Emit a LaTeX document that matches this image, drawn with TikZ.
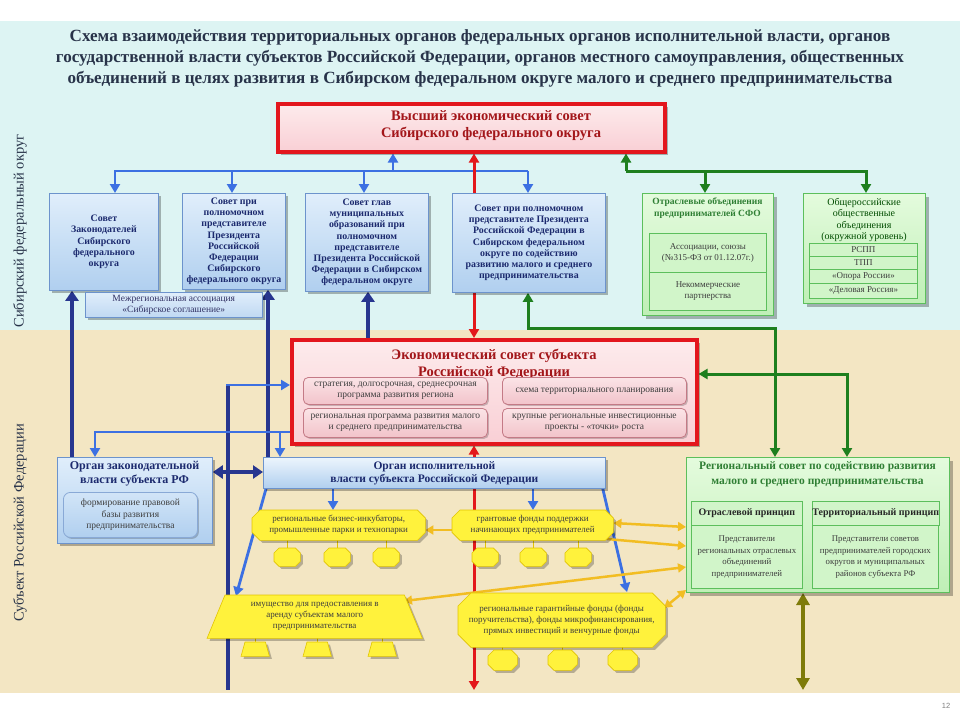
\documentclass[tikz,border=0pt]{standalone}
\usepackage{fontspec}
\setmainfont{Liberation Serif}
\newfontfamily\sansf{Liberation Sans}
\usetikzlibrary{arrows.meta,shadows,calc}
\definecolor{cyanbg}{HTML}{DDF4F3}
\definecolor{beigebg}{HTML}{F3E6C3}
\definecolor{titleC}{HTML}{283349}
\definecolor{navyT}{HTML}{1C2A6E}
\definecolor{redT}{HTML}{A3161A}
\definecolor{greenT}{HTML}{2F7F34}
\definecolor{grayT}{HTML}{3D3D3D}
\definecolor{bb1}{HTML}{E0EEFB}
\definecolor{bb2}{HTML}{B0CFEF}
\definecolor{bbd}{HTML}{6C93CC}
\definecolor{rb1}{HTML}{FDEBEC}
\definecolor{rb2}{HTML}{F9CFD5}
\definecolor{rbd}{HTML}{E3161D}
\definecolor{rr1}{HTML}{FBE4E7}
\definecolor{rr2}{HTML}{F2C3CA}
\definecolor{rrd}{HTML}{C47A86}
\definecolor{gb1}{HTML}{E4FBDD}
\definecolor{gb2}{HTML}{BFEFB6}
\definecolor{gbd}{HTML}{5CBF5C}
\definecolor{yfill}{HTML}{FFF23C}
\definecolor{yedge}{HTML}{E2C400}
\definecolor{lblue}{HTML}{3C70E2}
\definecolor{navyL}{HTML}{27368F}
\definecolor{redL}{HTML}{E3181B}
\definecolor{greenL}{HTML}{1E7F1E}
\definecolor{yelL}{HTML}{F2BD22}
\definecolor{oliveL}{HTML}{7E7B0A}
\pgfdeclarelayer{bg}\pgfdeclarelayer{lines}\pgfdeclarelayer{shp}
\pgfsetlayers{bg,lines,shp,main}
\newcommand\yoct[3]{\path[#3] ([xshift=#2]#1.north west) -- ([xshift=-#2]#1.north east) -- ([yshift=-#2]#1.north east) -- ([yshift=#2]#1.south east) -- ([xshift=-#2]#1.south east) -- ([xshift=#2]#1.south west) -- ([yshift=#2]#1.south west) -- ([yshift=-#2]#1.north west) -- cycle;}
\newcommand\ytrap[3]{\path[#3] ([xshift=#2]#1.north west) -- ([xshift=-#2]#1.north east) -- (#1.south east) -- (#1.south west) -- cycle;}
\begin{document}
\begin{tikzpicture}[x=1pt,y=-1pt,
 shad/.style={drop shadow={shadow xshift=3pt,shadow yshift=-3pt,fill=black,opacity=.28}},
 boxnw/.style={anchor=north west, inner sep=0pt, align=center},
 bbox/.style={boxnw, draw=bbd, line width=.8pt, top color=bb1, bottom color=bb2, shad, text=navyT, font=\bfseries\fontsize{9.9}{11.2}\selectfont},
 mzbox/.style={boxnw, draw=bbd, line width=.6pt, top color=bb1, bottom color=bb2!80, shad, text=grayT!80!blue, font=\fontsize{9.5}{11.5}\selectfont},
 rbox/.style={boxnw, draw=rbd, line width=3.5pt, top color=rb1, bottom color=rb2, shad},
 rtitle/.style={align=center, text=redT, inner sep=0pt, font=\bfseries\fontsize{14.5}{17}\selectfont},
 rrect/.style={boxnw, draw=rrd, line width=.8pt, rounded corners=5pt, top color=rr1, bottom color=rr2, drop shadow={shadow xshift=1.5pt,shadow yshift=-1.5pt,fill=black,opacity=.2}, text=grayT, font=\fontsize{9.5}{11.5}\selectfont},
 gbox/.style={boxnw, draw=gbd, line width=1pt, top color=gb1, bottom color=gb2, shad},
 gtitle/.style={align=center, inner sep=0pt, text=greenT, font=\bfseries\fontsize{9.5}{11.3}\selectfont},
 gin/.style={boxnw, draw=gbd, line width=.8pt, fill=gb1!50!gb2, text=grayT, font=\fontsize{9}{11}\selectfont},
 ghead/.style={boxnw, draw=gbd, line width=.8pt, fill=gb1!50!gb2, text=black!85, font=\bfseries\fontsize{10}{12}\selectfont},
 gbody/.style={boxnw, draw=gbd, line width=.8pt, fill=gb1!50!gb2, text=grayT, font=\fontsize{8.8}{11.5}\selectfont},
 ysh/.style={fill=yfill, draw=yedge, line width=.6pt, drop shadow={shadow xshift=2.5pt,shadow yshift=-2.5pt,fill=black,opacity=.25}},
 ytext/.style={anchor=north west, align=center, text=grayT, font=\fontsize{9}{11}\selectfont, inner sep=0pt},
 yfr/.style={anchor=north west, inner sep=0pt},
 yst/.style={draw=yedge, line width=1pt},
 lbl/.style={draw=lblue, line width=2.8pt, >={Triangle[length=9pt,width=10pt]}},
 nvl/.style={draw=navyL, line width=4pt, >={Triangle[length=10pt,width=13pt]}},
 rdl/.style={draw=redL, line width=3pt, >={Triangle[length=9pt,width=10pt]}},
 grl/.style={draw=greenL, line width=3pt, >={Triangle[length=9pt,width=10pt]}},
 yel/.style={draw=yelL, line width=2.5pt, >={Triangle[length=8pt,width=9pt]}},
 olv/.style={draw=oliveL, line width=4pt, >={Triangle[length=12pt,width=13pt]}},
 vlab/.style={rotate=90, text=titleC, font=\fontsize{14.5}{17}\selectfont}
]
\useasboundingbox (0,0) rectangle (960,720);
\begin{pgfonlayer}{bg}
\fill[white] (0,0) rectangle (960,720);
\fill[cyanbg] (0,21) rectangle (960,330);
\fill[beigebg] (0,330) rectangle (960,693);
\end{pgfonlayer}

% title and side labels
\node[align=center, text=titleC, font=\bfseries\fontsize{17.1}{21}\selectfont] (title) at (480,58) {Схема взаимодействия территориальных органов федеральных органов исполнительной власти, органов\\государственной власти субъектов Российской Федерации, органов местного самоуправления, общественных\\объединений в целях развития в Сибирском федеральном округе малого и среднего предпринимательства};
\node[vlab] (lab1) at (20,231) {Сибирский федеральный округ};
\node[vlab] (lab2) at (20,523) {Субъект Российской Федерации};
\node[font=\sansf\fontsize{7.5}{8}\selectfont, text=gray] (pg) at (946,706) {12};

% top council
\node[rbox, minimum width=387, minimum height=48] (top) at (276,102) {};
\node[rtitle] (topt) at (491,126) {Высший экономический совет\\Сибирского федерального округа};

% blue row
\node[bbox, minimum width=109, minimum height=97] (b1) at (49,193) {Совет\\Законодателей\\Сибирского\\федерального\\округа};
\node[bbox, minimum width=103, minimum height=96] (b2) at (182,193) {Совет при\\полномочном\\представителе\\Президента\\Российской\\Федерации\\Сибирского\\федерального округа};
\node[bbox, minimum width=123, minimum height=98] (b3) at (305,193) {Совет глав\\муниципальных\\образований при\\полномочном\\представителе\\Президента Российской\\Федерации в Сибирском\\федеральном округе};
\node[bbox, minimum width=153, minimum height=99] (b4) at (452,193) {Совет при полномочном\\представителе Президента\\Российской Федерации в\\Сибирском федеральном\\округе по содействию\\развитию малого и среднего\\предпринимательства};
\node[mzbox, minimum width=177, minimum height=25] (mz) at (85,292) {Межрегиональная ассоциация\\«Сибирское соглашение»};

% green boxes top
\node[gbox, minimum width=131, minimum height=122] (g1) at (642,193) {};
\node[gtitle] (g1t) at (707.5,208) {Отраслевые объединения\\предпринимателей СФО};
\node[gin, minimum width=117, minimum height=39] (g1a) at (649,233) {Ассоциации, союзы\\(№315-ФЗ от 01.12.07г.)};
\node[gin, minimum width=117, minimum height=38] (g1b) at (649,272) {Некоммерческие\\партнерства};
\node[gbox, minimum width=122, minimum height=110] (g2) at (803,193) {};
\node[gtitle, text=black!70!green, font=\fontsize{10}{11.3}\selectfont] (g2t) at (864,220) {Общероссийские\\общественные\\объединения\\(окружной уровень)};
\node[gin, minimum width=108, minimum height=13] (g2a) at (809,243) {РСПП};
\node[gin, minimum width=108, minimum height=13] (g2b) at (809,256) {ТПП};
\node[gin, minimum width=108, minimum height=14] (g2c) at (809,269) {«Опора России»};
\node[gin, minimum width=108, minimum height=15] (g2d) at (809,283) {«Деловая Россия»};

% economic council of subject
\node[rbox, minimum width=405, minimum height=104] (ec) at (290,338) {};
\node[rtitle] (ect) at (494,364) {Экономический совет субъекта\\Российской Федерации};
\node[rrect, minimum width=184, minimum height=27] (r1) at (303,377) {стратегия, долгосрочная, среднесрочная\\программа развития региона};
\node[rrect, minimum width=184, minimum height=27] (r2) at (502,377) {схема территориального планирования};
\node[rrect, minimum width=184, minimum height=29] (r3) at (303,408) {региональная программа развития малого\\и среднего предпринимательства};
\node[rrect, minimum width=184, minimum height=29] (r4) at (502,408) {крупные региональные инвестиционные\\проекты - «точки» роста};

% legislative and executive organs
\node[bbox, minimum width=155, minimum height=86] (oz) at (57,457) {};
\node[align=center, inner sep=0pt, text=navyT, font=\bfseries\fontsize{12}{14}\selectfont] (ozt) at (134.5,474) {Орган законодательной\\власти субъекта РФ};
\node[boxnw, draw=bbd!80, line width=.8pt, rounded corners=7pt, top color=bb1!70!bb2, bottom color=bb2, drop shadow={shadow xshift=1.5pt,shadow yshift=-1.5pt,fill=black,opacity=.2}, text=grayT, font=\fontsize{9.5}{11.5}\selectfont, minimum width=134, minimum height=45] (ozi) at (63,492) {формирование правовой\\базы развития\\предпринимательства};
\node[bbox, top color=bb1!60!white, font=\bfseries\fontsize{11.5}{13}\selectfont, minimum width=342, minimum height=31] (oi) at (263,457) {Орган исполнительной\\власти субъекта Российской Федерации};

% regional council
\node[gbox, minimum width=263, minimum height=135] (rc) at (686,457) {};
\node[gtitle, font=\bfseries\fontsize{11.5}{15}\selectfont] (rct) at (817.5,474.5) {Региональный совет по содействию развития\\малого и среднего предпринимательства};
\node[ghead, minimum width=111, minimum height=24] (rcl) at (691,501) {Отраслевой принцип};
\node[gbody, minimum width=111, minimum height=63] (rclb) at (691,525) {Представители\\региональных отраслевых\\объединений\\предпринимателей};
\node[ghead, minimum width=126, minimum height=24] (rcr) at (812,501) {Территориальный принцип};
\node[gbody, minimum width=126, minimum height=63] (rcrb) at (812,525) {Представители советов\\предпринимателей городских\\округов и муниципальных\\районов субъекта РФ};

% yellow shapes (text nodes; shapes drawn on layer shp)
\node[ytext, minimum width=173, minimum height=30] (y1) at (252,510) {региональные бизнес-инкубаторы,\\промышленные парки и технопарки};
\node[ytext, minimum width=161, minimum height=30] (y2) at (452,510) {грантовые фонды поддержки\\начинающих предпринимателей};
\node[ytext, minimum width=215, minimum height=43] (y3) at (207,595) {имущество для предоставления в\\аренду субъектам малого\\предпринимательства};
\node[ytext, minimum width=207, minimum height=54] (y4) at (458,593) {региональные гарантийные фонды (фонды\\поручительства), фонды микрофинансирования,\\прямых инвестиций и венчурные фонды};
\node[yfr, minimum width=26, minimum height=18] (y1a) at (274,548) {};
\node[yfr, minimum width=26, minimum height=18] (y1b) at (324,548) {};
\node[yfr, minimum width=26, minimum height=18] (y1c) at (373,548) {};
\node[yfr, minimum width=26, minimum height=18] (y2a) at (472,548) {};
\node[yfr, minimum width=26, minimum height=18] (y2b) at (520,548) {};
\node[yfr, minimum width=26, minimum height=18] (y2c) at (565,548) {};
\node[yfr, minimum width=28, minimum height=14] (y3a) at (241,642) {};
\node[yfr, minimum width=28, minimum height=14] (y3b) at (303,642) {};
\node[yfr, minimum width=28, minimum height=14] (y3c) at (368,642) {};
\node[yfr, minimum width=29, minimum height=20] (y4a) at (488,650) {};
\node[yfr, minimum width=29, minimum height=20] (y4b) at (548,650) {};
\node[yfr, minimum width=29, minimum height=20] (y4c) at (608,650) {};

\begin{pgfonlayer}{shp}
\yoct{y1}{8pt}{ysh}
\yoct{y2}{8pt}{ysh}
\ytrap{y3}{18pt}{ysh}
\yoct{y4}{13pt}{ysh}
\foreach \n in {y1a,y1b,y1c,y2a,y2b,y2c}{\yoct{\n}{5pt}{ysh}}
\foreach \n in {y4a,y4b,y4c}{\yoct{\n}{6pt}{ysh}}
\foreach \n in {y3a,y3b,y3c}{\ytrap{\n}{4pt}{ysh}}
\end{pgfonlayer}

\begin{pgfonlayer}{lines}
% stubs to small shapes
\foreach \a/\b in {y1/y1a,y1/y1b,y1/y1c,y2/y2a,y2/y2b,y2/y2c,y3/y3a,y3/y3b,y3/y3c,y4/y4a,y4/y4b,y4/y4c}{\draw[yst] (\b.north |- \a.south) -- (\b.north);}
% light blue bus from top council
\coordinate (bu) at (393,171);
\draw[lbl,->] (bu) -- (bu |- top.south);
\draw[lbl,->] (528,171) -- (115,171) -- (115,171 |- b1.north);
\draw[lbl,->] (232,171) -- (232,171 |- b2.north);
\draw[lbl,->] (364,171) -- (364,171 |- b3.north);
\draw[lbl,->] (528,171) -- (528,171 |- b4.north);
% red line
\draw[rdl,->] (474,171 |- b4.north) -- (474,171 |- top.south);
\draw[rdl,->] (474,300 |- b4.south) -- (474,300 |- ec.north);
\draw[rdl,<->] (474,450 |- ec.south) -- (474,690);
% green bus
\draw[grl,->] (626,171) -- (626,171 |- top.south);
\draw[grl,->] (626,171) -- (866,171) -- (866,171 |- g2.north);
\draw[grl,->] (705,171) -- (705,171 |- g1.north);
\draw[grl,<->] (528,300 |- b4.south) -- (528,328) -- (775,328) -- (775,328 |- rc.north);
\draw[grl,<->] (ec.east |- 0,374) -- (847,374) -- (847,374 |- rc.north);
% navy lines
\draw[nvl,->] (72,300 |- oz.north) -- (72,300 |- b1.south);
\draw[nvl,->] (268,300 |- oi.north) -- (268,300 |- b2.south);
\draw[nvl,->] (368,300 |- ec.north) -- (368,300 |- b3.south);
\draw[nvl] (228,385) -- (228,690);
\draw[nvl,<->] (oz.east |- 0,472) -- (oi.west |- 0,472);
% light blue in subject level
\draw[lbl,->] (226,385) -- (ec.west |- 0,385);
\draw[lbl,->] (ec.west |- 0,432) -- (95,432) -- (95,432 |- oz.north);
\draw[lbl,->] (280,432) -- (280,432 |- oi.north);
\draw[lbl,->] (333,0 |- oi.south) -- (333,0 |- y1.north);
\draw[lbl,->] (533,0 |- oi.south) -- (533,0 |- y2.north);
\draw[lbl,->] ([xshift=3pt]oi.south west) -- (236,596);
\draw[lbl,->] ([xshift=-3pt]oi.south east) -- (627,592);
% yellow arrows
\draw[yel,->] (y2.west |- 0,530) -- (y1.east |- 0,530);
\draw[yel,<->] (y2.east |- 0,523) -- (rc.west |- 0,527);
\draw[yel,->] (607,539) -- (rc.west |- 0,546);
\draw[yel,<->] (rc.west |- 0,567) -- (404,601);
\draw[yel,<->] (rc.west |- 0,590) -- (664,608);
% olive
\draw[olv,<->] (803,0 |- rc.south) -- (803,690);
\end{pgfonlayer}
\end{tikzpicture}
\end{document}
